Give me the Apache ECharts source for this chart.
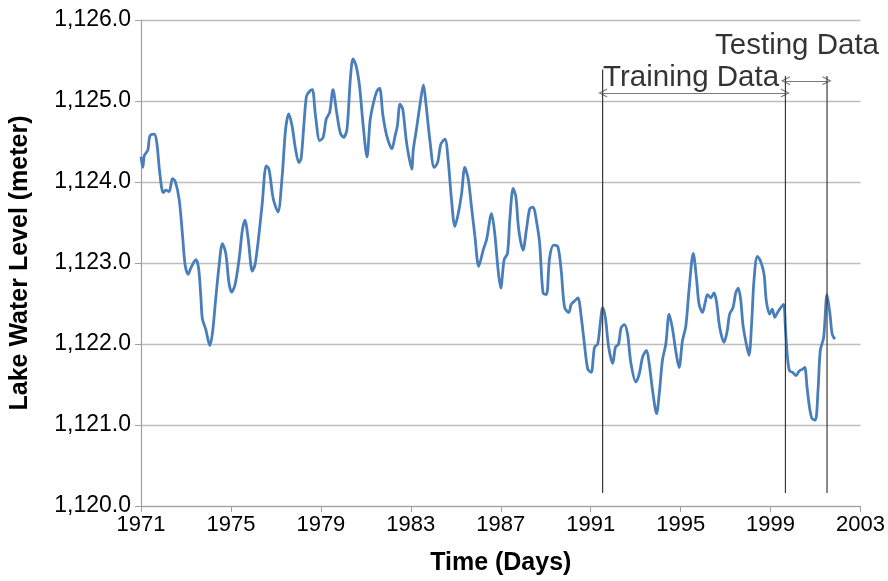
<!DOCTYPE html>
<html>
<head>
<meta charset="utf-8">
<script src="https://cdn.jsdelivr.net/npm/echarts@6/dist/echarts.min.js"></script>
<style>
html,body{margin:0;padding:0;background:#fff;}
#chart{width:888px;height:581px;}
</style>
</head>
<body>
<div id="chart"></div>
<script>
// ---- data ----
const years = [1971.00,1971.08,1971.15,1971.30,1971.40,1971.59,1971.70,1971.84,1971.99,1972.11,1972.25,1972.40,1972.52,1972.70,1972.85,1972.96,1973.10,1973.22,1973.44,1973.56,1973.66,1973.73,1973.88,1974.06,1974.18,1974.32,1974.47,1974.62,1974.77,1974.91,1975.03,1975.18,1975.36,1975.51,1975.62,1975.77,1975.95,1976.07,1976.22,1976.39,1976.57,1976.69,1976.84,
1976.91,1977.09,1977.28,1977.43,1977.57,1977.72,1977.87,1978.02,1978.12,1978.24,1978.36,1978.50,1978.62,1978.76,1978.95,1979.10,1979.24,1979.39,1979.54,1979.69,1979.86,1980.01,1980.16,1980.31,1980.43,1980.57,1980.72,1980.87,1981.05,1981.19,1981.34,1981.49,1981.61,1981.76,1981.93,1982.16,1982.30,1982.40,1982.52,1982.64,1982.79,
1982.89,1983.04,1983.11,1983.26,1983.41,1983.56,1983.66,1983.85,1984.04,1984.19,1984.34,1984.52,1984.66,1984.81,1984.96,1985.11,1985.26,1985.40,1985.55,1985.70,1985.85,1986.02,1986.22,1986.37,1986.59,1986.73,1986.88,1987.00,1987.15,1987.30,1987.40,1987.55,1987.67,1987.80,1987.99,1988.14,1988.29,1988.44,1988.58,1988.73,1988.88,1989.03,1989.17,
1989.35,1989.54,1989.69,1989.84,1990.03,1990.13,1990.28,1990.43,1990.58,1990.72,1990.87,1991.02,1991.17,1991.31,1991.42,1991.53,1991.65,1991.80,1991.98,1992.10,1992.24,1992.35,1992.50,1992.64,1992.79,1993.01,1993.16,1993.31,1993.48,1993.60,1993.75,1993.93,1994.05,1994.19,1994.34,1994.49,1994.63,1994.78,1994.93,1995.08,1995.23,1995.38,
1995.56,1995.70,1995.82,1995.97,1996.09,1996.19,1996.34,1996.48,1996.59,1996.74,1996.93,1997.07,1997.18,1997.33,1997.45,1997.56,1997.67,1997.77,1997.92,1998.04,1998.16,1998.26,1998.41,1998.56,1998.71,1998.81,1998.96,1999.07,1999.19,1999.31,1999.45,1999.58,1999.66,1999.75,1999.84,1999.98,2000.13,2000.28,2000.43,2000.52,2000.62,2000.73,2000.84,2000.99,2001.11,2001.21,2001.36,2001.51,2001.64,2001.74,2001.86];
const levels = [1124.31,1124.18,1124.33,1124.39,1124.57,1124.59,1124.49,1124.10,1123.87,1123.90,1123.88,1124.04,1124.01,1123.78,1123.33,1122.98,1122.86,1122.94,1123.04,1122.94,1122.59,1122.31,1122.18,1121.98,1122.14,1122.55,1122.96,1123.24,1123.12,1122.76,1122.64,1122.73,1123.04,1123.41,1123.53,1123.29,1122.90,1122.98,1123.29,1123.73,1124.20,1124.16,1123.86,
1123.76,1123.63,1124.08,1124.65,1124.84,1124.69,1124.41,1124.24,1124.29,1124.69,1125.06,1125.12,1125.14,1124.82,1124.51,1124.55,1124.78,1124.86,1125.14,1124.88,1124.61,1124.55,1124.65,1125.27,1125.52,1125.43,1125.18,1124.73,1124.31,1124.76,1124.98,1125.12,1125.16,1124.82,1124.57,1124.41,1124.57,1124.69,1124.96,1124.90,1124.53,
1124.35,1124.16,1124.40,1124.67,1124.96,1125.20,1125.00,1124.51,1124.18,1124.24,1124.47,1124.53,1124.27,1123.78,1123.45,1123.61,1123.86,1124.18,1124.04,1123.69,1123.33,1122.96,1123.16,1123.29,1123.61,1123.37,1122.92,1122.69,1123.04,1123.12,1123.53,1123.92,1123.82,1123.41,1123.16,1123.41,1123.67,1123.69,1123.53,1123.24,1122.63,1122.61,1123.06,
1123.22,1123.20,1122.90,1122.45,1122.39,1122.49,1122.53,1122.57,1122.33,1122.00,1121.69,1121.65,1121.96,1122.00,1122.24,1122.45,1122.33,1121.96,1121.76,1121.96,1122.00,1122.20,1122.24,1122.12,1121.76,1121.53,1121.63,1121.84,1121.92,1121.76,1121.43,1121.14,1121.39,1121.80,1122.00,1122.37,1122.20,1121.92,1121.71,1122.04,1122.22,1122.69,
1123.12,1122.82,1122.49,1122.39,1122.51,1122.61,1122.57,1122.63,1122.53,1122.20,1122.02,1122.16,1122.37,1122.45,1122.63,1122.69,1122.55,1122.24,1122.00,1121.86,1122.27,1122.78,1123.08,1123.02,1122.86,1122.53,1122.37,1122.43,1122.33,1122.39,1122.45,1122.49,1122.20,1121.84,1121.67,1121.65,1121.61,1121.67,1121.69,1121.71,1121.47,1121.22,1121.08,1121.06,1121.43,1121.92,1122.08,1122.61,1122.37,1122.12,1122.06];

const startYear = 1971;
const endYear = 2003;
const xTickStep = 4;
const yMin = 1120, yMax = 1126, yStep = 1;

// split markers (training / testing)
const splitYears = [1991.53, 1999.66, 2001.51];
const splitTops = [1125.39, 1125.31, 1125.31];
const splitBottom = 1120.16;
const trainingArrow = {from: 1991.53, to: 1999.66, level: 1125.10, text: 'Training Data', textYear: 1991.55, textLevel: 1125.29};
const testingArrow = {from: 1999.66, to: 2001.51, level: 1125.25, text: 'Testing Data', textYear: 1996.53, textLevel: 1125.68};

// ---- chart ----
const off = y => y - startYear;
const chart = echarts.init(document.getElementById('chart'), null, {renderer: 'canvas'});
const fontFam = "'Liberation Sans', Arial, sans-serif";
const arrowPath = 'path://M5,0 L10,9 L8.6,9 L5,2.6 L1.4,9 L0,9 Z';

const series = [{
  type: 'line',
  data: years.map((y, i) => [off(y), levels[i]]),
  showSymbol: false,
  symbol: 'none',
  smooth: 0.3,
  lineStyle: {color: '#4a7ebb', width: 2.8},
  z: 5
}];
splitYears.forEach((y, i) => {
  series.push({
    type: 'line',
    data: [[off(y), splitBottom], [off(y), splitTops[i]]],
    symbol: 'none',
    lineStyle: {color: '#3a3a3a', width: 1.2},
    z: 6
  });
});
[trainingArrow, testingArrow].forEach(a => {
  series.push({
    type: 'scatter',
    data: [[off(a.textYear), a.textLevel]],
    symbolSize: 0,
    silent: true,
    label: {show: true, position: 'right', distance: 0, formatter: a.text,
      color: '#000', fontSize: 29.5, fontFamily: fontFam},
    markLine: {
      silent: true,
      symbol: [arrowPath, arrowPath],
      symbolSize: [9, 9],
      lineStyle: {color: '#7a7a7a', width: 1, type: 'solid'},
      label: {show: false},
      data: [[{coord: [off(a.from), a.level]}, {coord: [off(a.to), a.level]}]]
    },
    z: 7
  });
});

chart.setOption({
  animation: false,
  backgroundColor: '#ffffff',
  grid: {left: 140, right: 26, top: 20, bottom: 73, containLabel: false},
  xAxis: {
    type: 'value',
    min: 0, max: endYear - startYear, interval: xTickStep,
    name: 'Time (Days)', nameLocation: 'middle', nameGap: 45,
    nameTextStyle: {fontSize: 25, fontWeight: 'bold', color: '#000', fontFamily: fontFam},
    axisLine: {show: true, lineStyle: {color: '#a0a0a0', width: 1.2}},
    axisTick: {show: true, length: 6, lineStyle: {color: '#a0a0a0'}},
    axisLabel: {formatter: v => String(v + startYear), fontSize: 22, color: '#000', margin: 8, fontFamily: fontFam},
    splitLine: {show: false}
  },
  yAxis: {
    type: 'value',
    min: yMin, max: yMax, interval: yStep,
    name: 'Lake Water Level (meter)', nameLocation: 'middle', nameGap: 108, nameRotate: 90,
    nameTextStyle: {fontSize: 25, fontWeight: 'bold', color: '#000', fontFamily: fontFam},
    axisLine: {show: true, lineStyle: {color: '#a0a0a0', width: 1.2}},
    axisTick: {show: true, length: 6, lineStyle: {color: '#a0a0a0'}},
    axisLabel: {formatter: v => v.toLocaleString('en-US', {minimumFractionDigits: 1, maximumFractionDigits: 1}),
      fontSize: 23, color: '#000', margin: 10, fontFamily: fontFam},
    splitLine: {show: true, lineStyle: {color: '#bdbdbd', width: 1.3}}
  },
  series: series
});
</script>
</body>
</html>
